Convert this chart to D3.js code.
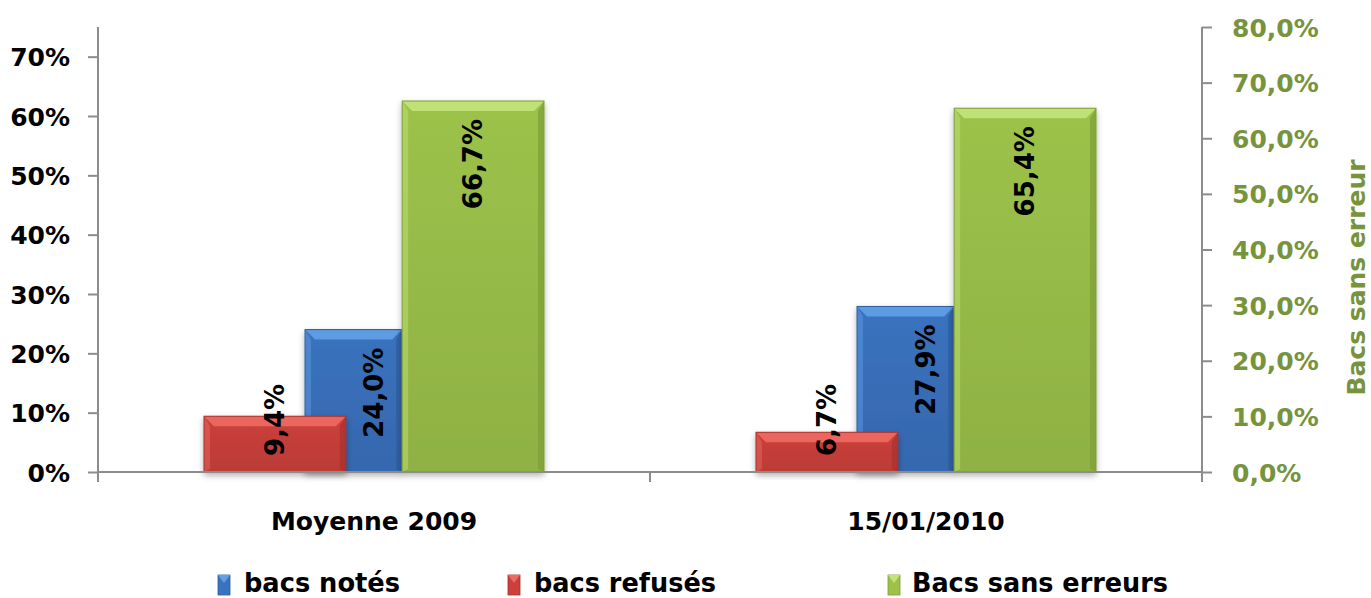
<!DOCTYPE html>
<html>
<head>
<meta charset="utf-8">
<script src="https://cdn.jsdelivr.net/npm/d3@7"></script>
<style>
  body { margin: 0; background: #fff; }
  svg { display: block; }
</style>
</head>
<body>
<div id="chart"></div>
<script>
var w = 1371, h = 598;

// data
var categories = ["Moyenne 2009", "15/01/2010"];
var seriesNames = ["bacs notés", "bacs refusés", "Bacs sans erreurs"];
var notes = [0.240, 0.279];
var refuses = [0.094, 0.067];
var sansErreurs = [0.667, 0.654];
var leftTicks = [0, 0.1, 0.2, 0.3, 0.4, 0.5, 0.6, 0.7];
var rightTicks = [0, 0.1, 0.2, 0.3, 0.4, 0.5, 0.6, 0.7, 0.8];

// bar placement inside a category band (fractions of the band)
var layout = {
  "bacs notés":        {start: 0.375, width: 0.176, label: 0.5,   axis: "left",  c: ["#62A0E6", "#3A72BE", "#2F5E9E"]},
  "bacs refusés":      {start: 0.192, width: 0.257, label: null,  axis: "left",  c: ["#EE6A64", "#CC403B", "#A8302C"]},
  "Bacs sans erreurs": {start: 0.551, width: 0.257, label: null,  axis: "right", c: ["#C4E47A", "#9CC24A", "#7E9E36"]}
};
var drawOrder = ["bacs notés", "bacs refusés", "Bacs sans erreurs"];
var values = {"bacs notés": notes, "bacs refusés": refuses, "Bacs sans erreurs": sansErreurs};

var plotLeft = 98, plotRight = 1202, plotTop = 27, base = 472;

var x = d3.scaleBand().domain(categories).range([plotLeft, plotRight]).padding(0);
var yL = d3.scaleLinear().domain([0, 0.75]).range([base, plotTop]);
var yR = d3.scaleLinear().domain([0, 0.8]).range([base, plotTop]);

var svg = d3.select("#chart").append("svg").attr("width", w).attr("height", h);
var defs = svg.append("defs");

drawOrder.forEach(function(s, i) {
  var g = defs.append("linearGradient").attr("id", "grad" + i)
    .attr("x1", 0).attr("y1", 0).attr("x2", 0).attr("y2", 1);
  g.append("stop").attr("offset", "0%").attr("stop-color", layout[s].c[1]);
  g.append("stop").attr("offset", "100%").attr("stop-color", d3.color(layout[s].c[1]).darker(0.25));
});

var shadow = defs.append("filter").attr("id", "shadow")
  .attr("x", "-10%").attr("y", "-10%").attr("width", "120%").attr("height", "130%");
shadow.append("feDropShadow").attr("dx", 0).attr("dy", 3).attr("stdDeviation", 3)
  .attr("flood-color", "#000").attr("flood-opacity", 0.3);

var fontMain = "'DejaVu Sans', Verdana, sans-serif";
var green = "#77933C";
var axisCol = "#8C8C8C";

// left axis
var yAxisL = d3.axisLeft(yL).tickValues(leftTicks).tickSize(10).tickFormat(d3.format(".0%"));
var gL = svg.append("g").attr("transform", "translate(" + plotLeft + ",0)").call(yAxisL);
gL.select(".domain").attr("d", "M0," + plotTop + "V" + (base + 10)).attr("stroke", axisCol).attr("stroke-width", 2);
gL.selectAll(".tick line").attr("stroke", axisCol).attr("stroke-width", 2);
gL.selectAll(".tick text").attr("x", -28).attr("dy", "0.36em")
  .style("font-family", fontMain).style("font-weight", "bold").style("font-size", "25px").attr("fill", "#000");

// right axis
var yAxisR = d3.axisRight(yR).tickValues(rightTicks).tickSize(10)
  .tickFormat(function(d) { return d3.format(".1f")(d * 100).replace(".", ",") + "%"; });
var gR = svg.append("g").attr("transform", "translate(" + plotRight + ",0)").call(yAxisR);
gR.select(".domain").attr("d", "M0," + plotTop + "V" + (base + 10)).attr("stroke", axisCol).attr("stroke-width", 2);
gR.selectAll(".tick line").attr("stroke", axisCol).attr("stroke-width", 2);
gR.selectAll(".tick text").attr("x", 30).attr("dy", "0.36em")
  .style("font-family", fontMain).style("font-weight", "bold").style("font-size", "25px").attr("fill", green);

svg.append("text")
  .attr("transform", "translate(1356," + ((plotTop + base) / 2 + 28) + ") rotate(-90)")
  .attr("text-anchor", "middle").attr("dy", "0.36em")
  .style("font-family", fontMain).style("font-weight", "bold").style("font-size", "25px")
  .attr("fill", green).text("Bacs sans erreur");

// bars
drawOrder.forEach(function(s, si) {
  var L = layout[s];
  var y = L.axis == "left" ? yL : yR;
  var g = svg.append("g");
  var bars = g.selectAll("g").data(values[s]).enter().append("g")
    .attr("filter", "url(#shadow)");
  bars.each(function(v, i) {
    var b = d3.select(this);
    var bx = x(categories[i]) + x.bandwidth() * L.start;
    var bw = x.bandwidth() * L.width;
    var by = y(v), bh = base - y(v);
    var e = Math.min(10, bh / 3);
    b.append("rect").attr("x", bx).attr("y", by).attr("width", bw).attr("height", bh)
      .attr("fill", "url(#grad" + si + ")");
    // bevel
    b.append("path").attr("d", "M" + bx + "," + by + "H" + (bx + bw) + "L" + (bx + bw - e) + "," + (by + e) + "H" + (bx + e) + "Z")
      .attr("fill", L.c[0]).attr("opacity", 0.9);
    b.append("path").attr("d", "M" + bx + "," + by + "L" + (bx + e * 0.6) + "," + (by + e) + "V" + (base - 3) + "L" + bx + "," + base + "Z")
      .attr("fill", L.c[0]).attr("opacity", 0.45);
    b.append("path").attr("d", "M" + (bx + bw) + "," + by + "L" + (bx + bw - e * 0.6) + "," + (by + e) + "V" + (base - 3) + "L" + (bx + bw) + "," + base + "Z")
      .attr("fill", L.c[2]).attr("opacity", 0.7);
    b.append("rect").attr("x", bx).attr("y", by).attr("width", bw).attr("height", bh)
      .attr("fill", "none").attr("stroke", L.c[2]).attr("stroke-width", 1);
  });
});

// x axis line and ticks
svg.append("line").attr("x1", plotLeft).attr("x2", plotRight).attr("y1", base).attr("y2", base)
  .attr("stroke", axisCol).attr("stroke-width", 2);
var xTicks = categories.map(function(c) { return x(c); }).concat([plotRight]);
svg.selectAll(".xt").data(xTicks).enter().append("line")
  .attr("x1", function(d) { return d; }).attr("x2", function(d) { return d; })
  .attr("y1", base).attr("y2", base + 10).attr("stroke", axisCol).attr("stroke-width", 2);

svg.selectAll(".cat").data(categories).enter().append("text")
  .attr("x", function(d) { return x(d) + x.bandwidth() / 2; }).attr("y", 530)
  .attr("text-anchor", "middle")
  .style("font-family", fontMain).style("font-weight", "bold").style("font-size", "25px")
  .text(function(d) { return d; });

// value labels
drawOrder.forEach(function(s) {
  var L = layout[s];
  var y = L.axis == "left" ? yL : yR;
  values[s].forEach(function(v, i) {
    var cx = x(categories[i]) + x.bandwidth() * (L.label != null ? L.label : L.start + L.width / 2);
    var t = svg.append("text")
      .style("font-family", fontMain).style("font-weight", "bold").style("font-size", "26px")
      .attr("dy", "0.36em")
      .text(d3.format(".1f")(v * 100).replace(".", ",") + "%");
    var len = t.node().getComputedTextLength();
    var bh = base - y(v);
    var yy, anchor;
    if (len + 36 > bh) { yy = base - 16; anchor = "start"; }
    else { yy = y(v) + 18; anchor = "end"; }
    t.attr("text-anchor", anchor).attr("transform", "translate(" + cx + "," + yy + ") rotate(-90)");
  });
});

// legend
var legendPos = [{x: 218, tx: 244, tw: 156}, {x: 508, tx: 534, tw: 182}, {x: 888, tx: 912, tw: 256}];
var legendSeries = ["bacs notés", "bacs refusés", "Bacs sans erreurs"];
legendSeries.forEach(function(s, i) {
  var p = legendPos[i], L = layout[s];
  var g = svg.append("g");
  g.append("rect").attr("x", p.x).attr("y", 575).attr("width", 12).attr("height", 20)
    .attr("fill", L.c[1]).attr("stroke", L.c[2]).attr("stroke-width", 0.8);
  g.append("path").attr("d", "M" + p.x + ",575H" + (p.x + 12) + "L" + (p.x + 6) + ",583Z")
    .attr("fill", L.c[0]);
  g.append("text").attr("x", p.tx).attr("y", 592)
    .attr("textLength", p.tw).attr("lengthAdjust", "spacingAndGlyphs")
    .style("font-family", "'DejaVu Sans Condensed', 'DejaVu Sans', sans-serif")
    .style("font-weight", "bold").style("font-size", "27px")
    .text(s);
});
</script>
</body>
</html>
